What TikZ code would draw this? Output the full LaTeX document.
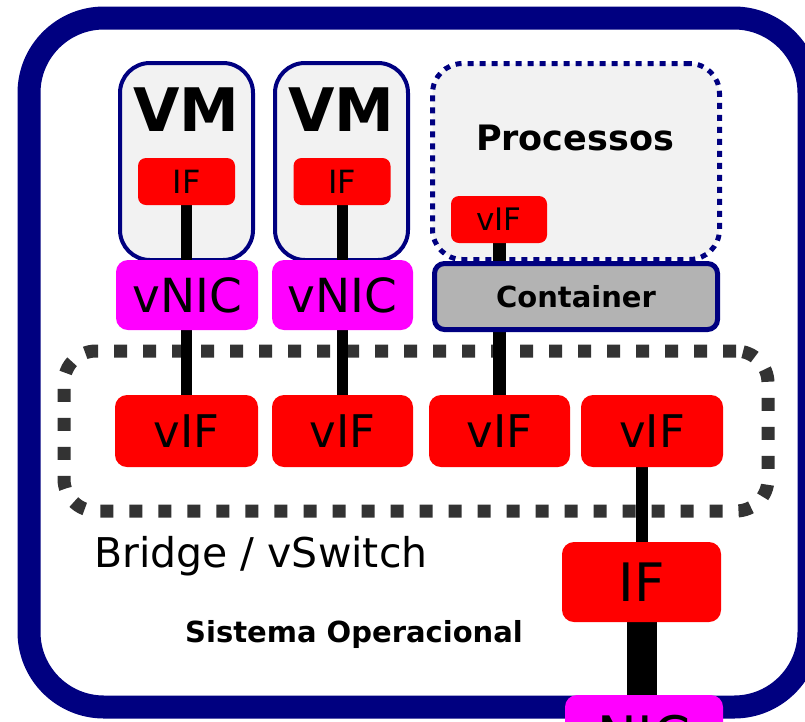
\documentclass[tikz,border=0pt]{standalone}
\usepackage{fontspec}
\setmainfont{DejaVu Sans}
\definecolor{navy}{HTML}{000080}
\definecolor{boxgray}{HTML}{F2F2F2}
\definecolor{contgray}{HTML}{B3B3B3}
\definecolor{dashgray}{HTML}{333333}
\definecolor{nicpink}{HTML}{FF00FF}
\pgfdeclarelayer{back}
\pgfdeclarelayer{wires}
\pgfsetlayers{back,wires,main}
\newcommand{\fs}[1]{\fontsize{#1}{#1}\selectfont}
\tikzset{
  vmbox/.style={draw=navy,line width=4pt,fill=boxgray,rounded corners=30pt,minimum width=133pt,minimum height=197pt},
  ifbox/.style={fill=red,rounded corners=8pt,minimum width=97pt,minimum height=47pt},
  vifbox/.style={fill=red,rounded corners=12pt,minimum width=141pt,minimum height=72pt,font=\fs{45}},
  nicbox/.style={fill=nicpink,rounded corners=12pt},
  wire/.style={line width=11pt}
}
\begin{document}
\begin{tikzpicture}[x=1pt,y=-1pt,inner sep=0pt]
\useasboundingbox (0,0) rectangle (805,721);
\begin{pgfonlayer}{back}
\node[draw=navy,line width=23pt,rounded corners=75pt,minimum width=780pt,minimum height=689pt] (os) at (419,362.5) {};
\node[draw=dashgray,line width=13pt,dash pattern=on 13pt off 16pt,rounded corners=32pt,minimum width=704pt,minimum height=160pt] (bridge) at (416,431) {};
\node[vmbox] (vm1) at (186.5,161.5) {};
\node[vmbox] (vm2) at (341.5,161.5) {};
\node[draw=navy,line width=5pt,dash pattern=on 6pt off 6pt,fill=boxgray,rounded corners=30pt,minimum width=287pt,minimum height=196pt] (proc) at (576,161.5) {};
\end{pgfonlayer}

\node[font=\bfseries\fs{60}] (vm1txt) at (186.5,110) {VM};
\node[font=\bfseries\fs{60}] (vm2txt) at (341.5,110) {VM};
\node[ifbox,font=\fs{32}] (if1) at (186.5,181.5) {IF};
\node[ifbox,font=\fs{32}] (if2) at (342,181.5) {IF};
\node[nicbox,minimum width=142pt,minimum height=70pt,font=\fs{47}] (vnic1) at (187,295) {vNIC};
\node[nicbox,minimum width=141pt,minimum height=70pt,font=\fs{47}] (vnic2) at (342.5,295) {vNIC};
\node[font=\bfseries\fs{35}] (proctxt) at (575,138) {Processos};
\node[ifbox,minimum width=96pt,font=\fs{31}] (vifc) at (499,219.5) {vIF};
\node[draw=navy,line width=5pt,fill=contgray,rounded corners=10pt,minimum width=283pt,minimum height=66pt,font=\bfseries\fs{29}] (cont) at (576,296.5) {Container};

\node[vifbox,minimum width=143pt] (vif1) at (186.5,431) {vIF};
\node[vifbox] (vif2) at (342.5,431) {vIF};
\node[vifbox] (vif3) at (499.5,431) {vIF};
\node[vifbox,minimum width=142pt] (vif4) at (652,431) {vIF};
\node[anchor=base west,font=\fs{41}] (brtxt) at (94,567) {Bridge / vSwitch};
\node[fill=red,rounded corners=12pt,minimum width=159pt,minimum height=80pt,font=\fs{53}] (ifhost) at (641.5,582) {IF};
\node[anchor=base west,font=\bfseries\fs{29}] (ostxt) at (185,642) {Sistema Operacional};
\node[nicbox,minimum width=158pt,minimum height=80pt,font=\fs{53}] (nic) at (644,735) {NIC};

\begin{pgfonlayer}{wires}
\draw[wire] (if1) -- (vif1);
\draw[wire] (if2) -- (if2 |- vif2);
\draw[wire,line width=13pt] (vifc) -- (vifc |- vif3);
\draw[wire,line width=12pt] (ifhost |- vif4) -- (ifhost);
\draw[wire,line width=30pt] (ifhost) -- (ifhost |- nic);
\end{pgfonlayer}
\end{tikzpicture}
\end{document}
